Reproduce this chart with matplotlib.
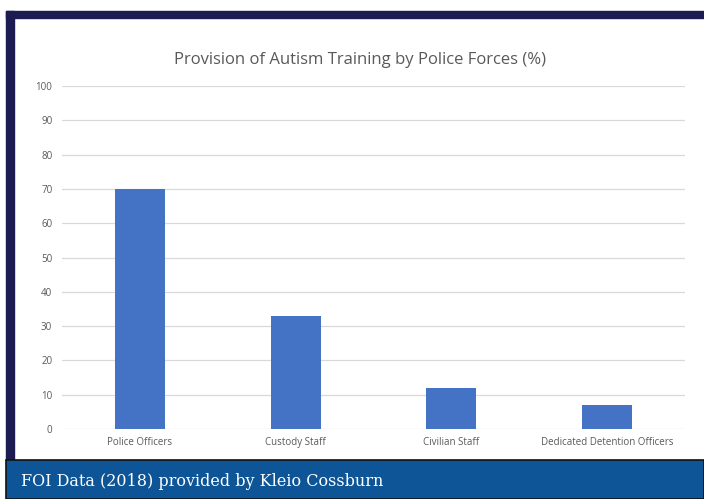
import matplotlib
matplotlib.use("Agg")
import matplotlib.pyplot as plt
import matplotlib.patches as mpatches

categories = ["Police Officers", "Custody Staff", "Civilian Staff", "Dedicated Detention Officers"]
values = [70, 33, 12, 7]
yticks = [0, 10, 20, 30, 40, 50, 60, 70, 80, 90, 100]

W, H = 704, 499
fig = plt.figure(figsize=(W / 100, H / 100), dpi=100)
fig.patch.set_facecolor("white")


def px(x, y, w, h):
    # pixel box (top-left origin) -> figure fraction
    return (x / W, 1 - (y + h) / H, w / W, h / H)


# navy frame on top and left
navy = "#1c1c52"
for box in [px(6, 11, 698, 7), px(6, 11, 8, 450)]:
    fig.add_artist(mpatches.Rectangle(box[:2], box[2], box[3], transform=fig.transFigure,
                                      color=navy, zorder=0))

# bottom banner
b = px(6, 460, 698, 39)
fig.add_artist(mpatches.Rectangle(b[:2], b[2], b[3], transform=fig.transFigure,
                                  facecolor="#0d5596", edgecolor="#111111", linewidth=1.2, zorder=0))
fig.text(21 / W, 1 - 482 / H, "FOI Data (2018) provided by Kleio Cossburn", color="white",
         fontsize=11.5, family="DejaVu Serif", va="center", ha="left")

ax = fig.add_axes(px(62, 86, 623, 343))
x = range(len(categories))
ax.bar(x, values, width=0.32, color="#4472c4", zorder=3)
ax.set_xlim(-0.5, len(categories) - 0.5)
ax.set_ylim(0, 100)
ax.set_yticks(yticks)
ax.set_xticks(list(x))
ax.set_xticklabels(categories)
ax.grid(axis="y", color="#d9d9d9", linewidth=0.9, zorder=0)
for s in ax.spines.values():
    s.set_visible(False)
ax.tick_params(length=0, colors="#595959", labelsize=7)
ax.tick_params(axis="y", pad=7)
ax.tick_params(axis="x", pad=6)
for lab in ax.get_xticklabels() + ax.get_yticklabels():
    lab.set_family("Open Sans")

fig.text(360 / W, 1 - 60 / H, "Provision of Autism Training by Police Forces (%)",
         ha="center", va="center", fontsize=12, color="#595959", family="Open Sans")

fig.savefig("out.png", dpi=100)
